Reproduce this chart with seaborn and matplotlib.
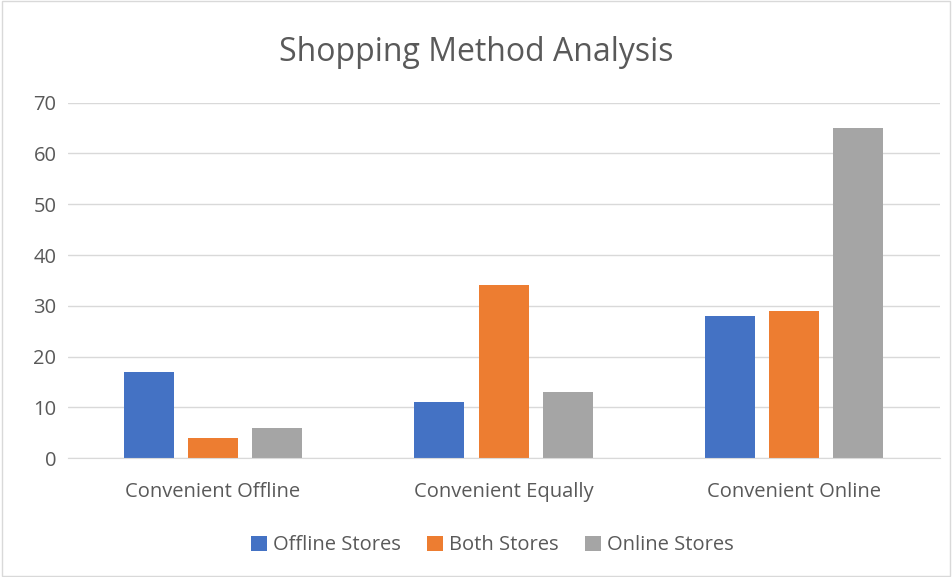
import pandas as pd
import matplotlib.pyplot as plt
import seaborn as sns

# chart data
categories = ['Convenient Offline', 'Convenient Equally', 'Convenient Online']
series_names = ['Offline Stores', 'Both Stores', 'Online Stores']
offline_stores = [17, 11, 28]
both_stores = [4, 34, 29]
online_stores = [6, 13, 65]
colors = ['#4472C4', '#ED7D31', '#A5A5A5']

df = pd.DataFrame({
    'category': categories * 3,
    'series': [s for s in series_names for _ in categories],
    'value': offline_stores + both_stores + online_stores,
})

sns.set_style('white')
plt.rcParams['font.family'] = ['Open Sans', 'DejaVu Sans']

fig = plt.figure(figsize=(9.52, 5.77), dpi=100)
ax = fig.add_axes([0.071, 0.206, 0.916, 0.616])

sns.barplot(data=df, x='category', y='value', hue='series', palette=colors,
            width=0.662, gap=0.22, ax=ax, saturation=1, linewidth=0)

ax.set_xlim(-0.5, 2.5)
ax.set_ylim(0, 70)
ax.set_yticks(range(0, 71, 10))
ax.yaxis.grid(True, color='#D9D9D9', linewidth=1)
ax.set_axisbelow(True)
for side in ['top', 'right', 'left']:
    ax.spines[side].set_visible(False)
ax.spines['bottom'].set_color('#D9D9D9')
ax.tick_params(axis='both', length=0, labelsize=14.5, colors='#595959')
ax.tick_params(axis='x', pad=17)
ax.tick_params(axis='y', pad=8)
ax.set_xlabel('')
ax.set_ylabel('')

fig.suptitle('Shopping Method Analysis', y=0.938, fontsize=23, color='#595959')

ax.legend(loc='center', bbox_to_anchor=(0.487, -0.245), ncol=3, frameon=False,
          fontsize=14.5, labelcolor='#595959', handlelength=0.8, handleheight=0.8,
          handletextpad=0.3, columnspacing=1.3)

# light border around the whole chart
fig.patches.append(plt.Rectangle((0.002, 0.002), 0.996, 0.996, transform=fig.transFigure,
                                 fill=False, edgecolor='#D9D9D9', linewidth=1))

fig.savefig('out.png', dpi=100)
